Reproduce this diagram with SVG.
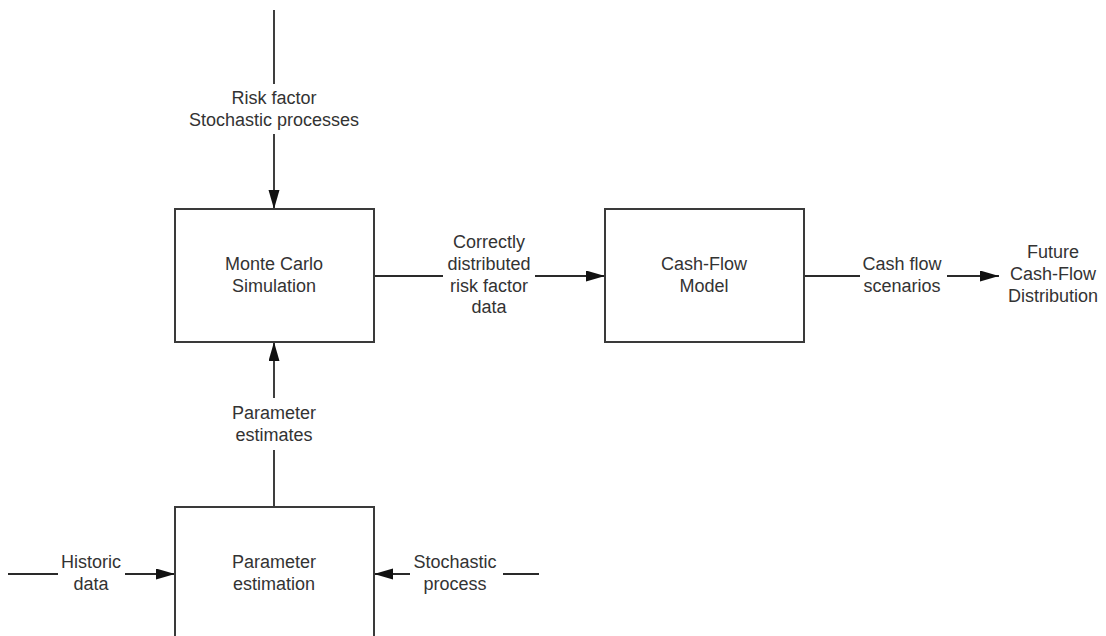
<svg xmlns="http://www.w3.org/2000/svg" width="1106" height="636" viewBox="0 0 1106 636">
<style>
.box{fill:#fff;stroke:#3a3a3a;stroke-width:2}
.ln{fill:none;stroke:#2a2a2a;stroke-width:1.8}
.t{font-family:"Liberation Sans",Arial,sans-serif;font-size:18px;fill:#333;text-anchor:middle;dominant-baseline:central}
</style>
<defs>
<marker id="ah" markerUnits="userSpaceOnUse" markerWidth="20" markerHeight="12" refX="19" refY="5.5" orient="auto">
<path d="M0,0 L19,5.5 L0,11 z" fill="#111"/>
</marker>
</defs>
<rect width="1106" height="636" fill="#fff"/>
<g id="connectors">
<line class="ln" x1="274" y1="10" x2="274" y2="84"/>
<line class="ln" x1="274" y1="134" x2="274" y2="209" marker-end="url(#ah)"/>
<line class="ln" x1="374" y1="276" x2="443" y2="276"/>
<line class="ln" x1="535" y1="276" x2="605" y2="276" marker-end="url(#ah)"/>
<line class="ln" x1="804" y1="276" x2="860" y2="276"/>
<line class="ln" x1="947" y1="276" x2="999" y2="276" marker-end="url(#ah)"/>
<line class="ln" x1="274" y1="507" x2="274" y2="450"/>
<line class="ln" x1="274" y1="398" x2="274" y2="342" marker-end="url(#ah)"/>
<line class="ln" x1="8" y1="574" x2="58" y2="574"/>
<line class="ln" x1="125" y1="574" x2="175" y2="574" marker-end="url(#ah)"/>
<line class="ln" x1="539" y1="574" x2="503" y2="574"/>
<line class="ln" x1="410" y1="574" x2="374" y2="574" marker-end="url(#ah)"/>
<text class="t" x="274" y="98">Risk factor</text>
<text class="t" x="274" y="120">Stochastic processes</text>
<text class="t" x="489" y="242">Correctly</text>
<text class="t" x="489" y="264">distributed</text>
<text class="t" x="489" y="286">risk factor</text>
<text class="t" x="489" y="307">data</text>
<text class="t" x="902" y="264">Cash flow</text>
<text class="t" x="902" y="286">scenarios</text>
<text class="t" x="274" y="413">Parameter</text>
<text class="t" x="274" y="435">estimates</text>
<text class="t" x="91" y="562">Historic</text>
<text class="t" x="91" y="584">data</text>
<text class="t" x="455" y="562">Stochastic</text>
<text class="t" x="455" y="584">process</text>
</g>
<g id="monte-carlo">
<rect class="box" x="175" y="209" width="199" height="133"/>
<text class="t" x="274" y="264">Monte Carlo</text>
<text class="t" x="274" y="286">Simulation</text>
</g>
<g id="cash-flow-model">
<rect class="box" x="605" y="209" width="199" height="133"/>
<text class="t" x="704" y="264">Cash-Flow</text>
<text class="t" x="704" y="286">Model</text>
</g>
<g id="parameter-estimation">
<rect class="box" x="175" y="507" width="199" height="160"/>
<text class="t" x="274" y="562">Parameter</text>
<text class="t" x="274" y="584">estimation</text>
</g>
<g id="future-distribution">
<text class="t" x="1053" y="252">Future</text>
<text class="t" x="1053" y="274">Cash-Flow</text>
<text class="t" x="1053" y="296">Distribution</text>
</g>
</svg>
